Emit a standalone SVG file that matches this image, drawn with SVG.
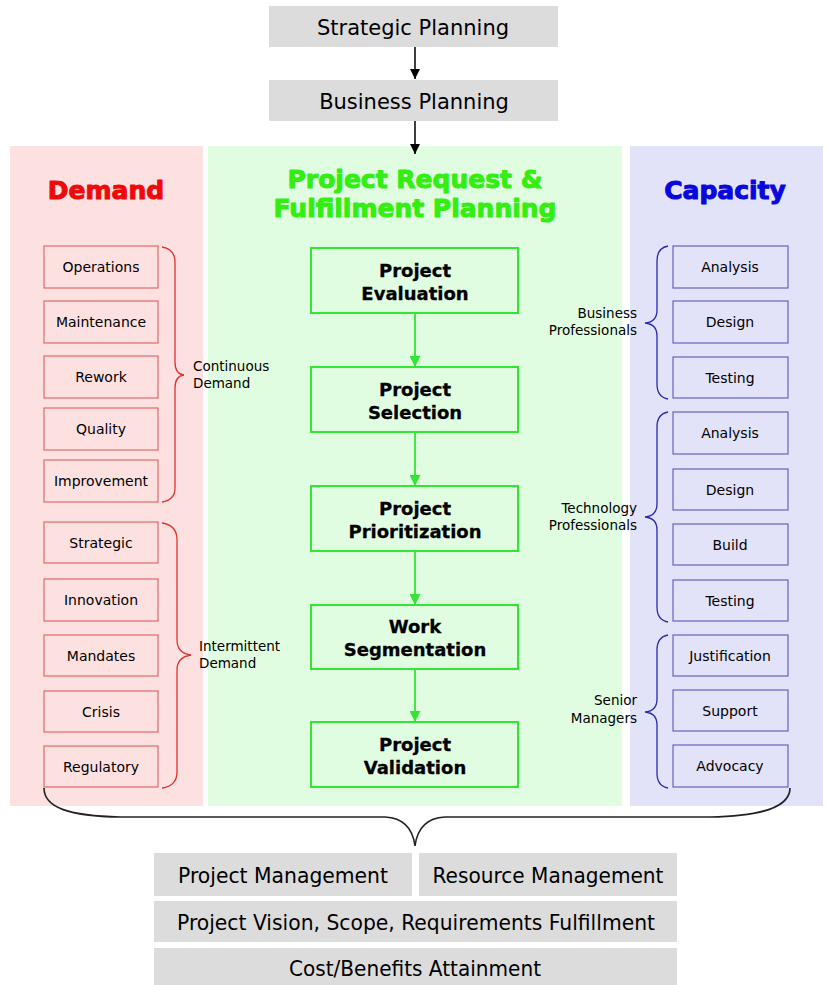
<svg xmlns="http://www.w3.org/2000/svg" width="827" height="985" viewBox="0 0 827 985">
<defs>
<marker id="ab" viewBox="0 0 10 10" refX="10" refY="5" markerWidth="10" markerHeight="10" markerUnits="userSpaceOnUse" orient="auto"><path d="M0,0 L10,5 L0,10 z" fill="#000"/></marker>
<marker id="ag" viewBox="0 0 10 10" refX="10" refY="5" markerWidth="12" markerHeight="11" markerUnits="userSpaceOnUse" orient="auto"><path d="M0,0 L10,5 L0,10 z" fill="#33e633"/></marker>
<style>
text{font-family:"DejaVu Sans","Liberation Sans",sans-serif;fill:#000}
.gray{fill:#dcdcdc}
.big{font-size:21px;text-anchor:middle}
.sm{font-size:14px;text-anchor:middle}
.lbl{font-size:13.5px}
.rbox{fill:none;stroke:#e06a6a;stroke-width:1.2}
.bbox{fill:none;stroke:#6464c0;stroke-width:1.2}
.gbox{fill:none;stroke:#33e633;stroke-width:2}
.gt{font-size:18px;font-weight:bold;text-anchor:middle;stroke:#000;stroke-width:0.3}
.title{font-size:25px;font-weight:bold;text-anchor:middle;stroke-width:1;stroke-linejoin:round}
.rbr{fill:none;stroke:#e03030;stroke-width:1.3}
.bbr{fill:none;stroke:#2a2aa8;stroke-width:1.3}
</style>
</defs>
<rect x="10" y="146" width="193" height="660" fill="#fde1e1"/>
<rect x="208" y="146" width="414" height="660" fill="#e1fde1"/>
<rect x="630" y="146" width="193" height="660" fill="#e2e2f9"/>

<g id="strategic-planning"><rect class="gray" x="269" y="6" width="289" height="41"/><text class="big" x="413" y="35">Strategic Planning</text></g>
<g id="business-planning"><rect class="gray" x="269" y="80" width="289" height="41"/><text class="big" x="414" y="109">Business Planning</text></g>

<g id="demand-title"><text class="title" x="106" y="199" style="fill:#ee0a0a;stroke:#ee0a0a">Demand</text></g>
<g id="prf-title"><text class="title" x="415" y="188" style="fill:#33ee11;stroke:#33ee11">Project Request &amp;</text><text class="title" x="415" y="217" style="fill:#33ee11;stroke:#33ee11">Fulfillment Planning</text></g>
<g id="capacity-title"><text class="title" x="725" y="199" style="fill:#0808dd;stroke:#0808dd">Capacity</text></g>

<g id="d-operations"><rect class="rbox" x="44" y="246" width="114" height="42"/><text class="sm" x="101" y="272">Operations</text></g>
<g id="d-maintenance"><rect class="rbox" x="44" y="301" width="114" height="42"/><text class="sm" x="101" y="327">Maintenance</text></g>
<g id="d-rework"><rect class="rbox" x="44" y="356" width="114" height="42"/><text class="sm" x="101" y="382">Rework</text></g>
<g id="d-quality"><rect class="rbox" x="44" y="408" width="114" height="42"/><text class="sm" x="101" y="434">Quality</text></g>
<g id="d-improvement"><rect class="rbox" x="44" y="460" width="114" height="42"/><text class="sm" x="101" y="486">Improvement</text></g>
<g id="d-strategic"><rect class="rbox" x="44" y="522" width="114" height="41"/><text class="sm" x="101" y="548">Strategic</text></g>
<g id="d-innovation"><rect class="rbox" x="44" y="579" width="114" height="42"/><text class="sm" x="101" y="605">Innovation</text></g>
<g id="d-mandates"><rect class="rbox" x="44" y="635" width="114" height="41"/><text class="sm" x="101" y="661">Mandates</text></g>
<g id="d-crisis"><rect class="rbox" x="44" y="691" width="114" height="41"/><text class="sm" x="101" y="717">Crisis</text></g>
<g id="d-regulatory"><rect class="rbox" x="44" y="746" width="114" height="41"/><text class="sm" x="101" y="772">Regulatory</text></g>

<g id="continuous-demand"><path class="rbr" d="M162,247 Q175,249 175,262 L175,362 Q175,374 184,375 Q175,376 175,388 L175,488 Q175,500 162,502"/><text class="lbl" x="193" y="371">Continuous</text><text class="lbl" x="193" y="388">Demand</text></g>
<g id="intermittent-demand"><path class="rbr" d="M162,523 Q177,525 177,540 L177,640 Q177,653 191,655 Q177,657 177,670 L177,772 Q177,786 162,788"/><text class="lbl" x="199" y="651">Intermittent</text><text class="lbl" x="199" y="668">Demand</text></g>

<g id="p-evaluation"><rect class="gbox" x="311" y="248" width="207" height="65"/><text class="gt" x="415" y="277">Project</text><text class="gt" x="415" y="300">Evaluation</text></g>
<g id="p-selection"><rect class="gbox" x="311" y="367" width="207" height="65"/><text class="gt" x="415" y="396">Project</text><text class="gt" x="415" y="419">Selection</text></g>
<g id="p-prioritization"><rect class="gbox" x="311" y="486" width="207" height="65"/><text class="gt" x="415" y="515">Project</text><text class="gt" x="415" y="538">Prioritization</text></g>
<g id="p-segmentation"><rect class="gbox" x="311" y="605" width="207" height="64"/><text class="gt" x="415" y="633">Work</text><text class="gt" x="415" y="656">Segmentation</text></g>
<g id="p-validation"><rect class="gbox" x="311" y="722" width="207" height="65"/><text class="gt" x="415" y="751">Project</text><text class="gt" x="415" y="774">Validation</text></g>

<g id="c-analysis-1"><rect class="bbox" x="673" y="246" width="115" height="42"/><text class="sm" x="730" y="272">Analysis</text></g>
<g id="c-design-1"><rect class="bbox" x="673" y="301" width="115" height="42"/><text class="sm" x="730" y="327">Design</text></g>
<g id="c-testing-1"><rect class="bbox" x="673" y="357" width="115" height="41"/><text class="sm" x="730" y="383">Testing</text></g>
<g id="c-analysis-2"><rect class="bbox" x="673" y="412" width="115" height="42"/><text class="sm" x="730" y="438">Analysis</text></g>
<g id="c-design-2"><rect class="bbox" x="673" y="469" width="115" height="41"/><text class="sm" x="730" y="495">Design</text></g>
<g id="c-build"><rect class="bbox" x="673" y="524" width="115" height="41"/><text class="sm" x="730" y="550">Build</text></g>
<g id="c-testing-2"><rect class="bbox" x="673" y="580" width="115" height="41"/><text class="sm" x="730" y="606">Testing</text></g>
<g id="c-justification"><rect class="bbox" x="673" y="635" width="115" height="41"/><text class="sm" x="730" y="661">Justification</text></g>
<g id="c-support"><rect class="bbox" x="673" y="690" width="115" height="41"/><text class="sm" x="730" y="716">Support</text></g>
<g id="c-advocacy"><rect class="bbox" x="673" y="745" width="115" height="42"/><text class="sm" x="730" y="771">Advocacy</text></g>

<g id="business-professionals"><path class="bbr" d="M668,246 Q657,248 657,261 L657,310 Q657,322 645,323 Q657,324 657,336 L657,384 Q657,397 668,399"/><text class="lbl" x="637" y="318" text-anchor="end">Business</text><text class="lbl" x="637" y="335" text-anchor="end">Professionals</text></g>
<g id="technology-professionals"><path class="bbr" d="M668,412 Q657,414 657,427 L657,504 Q657,516 645,517 Q657,518 657,530 L657,607 Q657,620 668,622"/><text class="lbl" x="637" y="513" text-anchor="end">Technology</text><text class="lbl" x="637" y="530" text-anchor="end">Professionals</text></g>
<g id="senior-managers"><path class="bbr" d="M668,635 Q657,637 657,650 L657,699 Q657,711 645,712 Q657,713 657,725 L657,773 Q657,786 668,788"/><text class="lbl" x="637" y="705" text-anchor="end">Senior</text><text class="lbl" x="637" y="723" text-anchor="end">Managers</text></g>

<g id="project-management"><rect class="gray" x="154" y="853" width="258" height="43"/><text class="big" x="283" y="883" textLength="210" lengthAdjust="spacingAndGlyphs">Project Management</text></g>
<g id="resource-management"><rect class="gray" x="419" y="853" width="258" height="43"/><text class="big" x="548" y="883" textLength="231" lengthAdjust="spacingAndGlyphs">Resource Management</text></g>
<g id="vision-scope"><rect class="gray" x="154" y="901" width="523" height="41"/><text class="big" x="416" y="930" textLength="478" lengthAdjust="spacingAndGlyphs">Project Vision, Scope, Requirements Fulfillment</text></g>
<g id="cost-benefits"><rect class="gray" x="154" y="948" width="523" height="37"/><text class="big" x="415" y="976" textLength="252" lengthAdjust="spacingAndGlyphs">Cost/Benefits Attainment</text></g>

<g id="connectors">
<line x1="415" y1="47" x2="415" y2="79" stroke="#000" stroke-width="1.5" marker-end="url(#ab)"/>
<line x1="415" y1="121" x2="415" y2="154" stroke="#000" stroke-width="1.5" marker-end="url(#ab)"/>
<line x1="415" y1="313" x2="415" y2="367" stroke="#33e633" stroke-width="1.8" marker-end="url(#ag)"/>
<line x1="415" y1="432" x2="415" y2="486" stroke="#33e633" stroke-width="1.8" marker-end="url(#ag)"/>
<line x1="415" y1="551" x2="415" y2="605" stroke="#33e633" stroke-width="1.8" marker-end="url(#ag)"/>
<line x1="415" y1="669" x2="415" y2="722" stroke="#33e633" stroke-width="1.8" marker-end="url(#ag)"/>
<path d="M44,788 C44,808 70,816 120,817 L385,817 C405,818 413,830 415,846 C417,830 425,818 445,817 L710,817 C760,816 790,808 790,788" fill="none" stroke="#222" stroke-width="1.6"/>
</g>
</svg>
